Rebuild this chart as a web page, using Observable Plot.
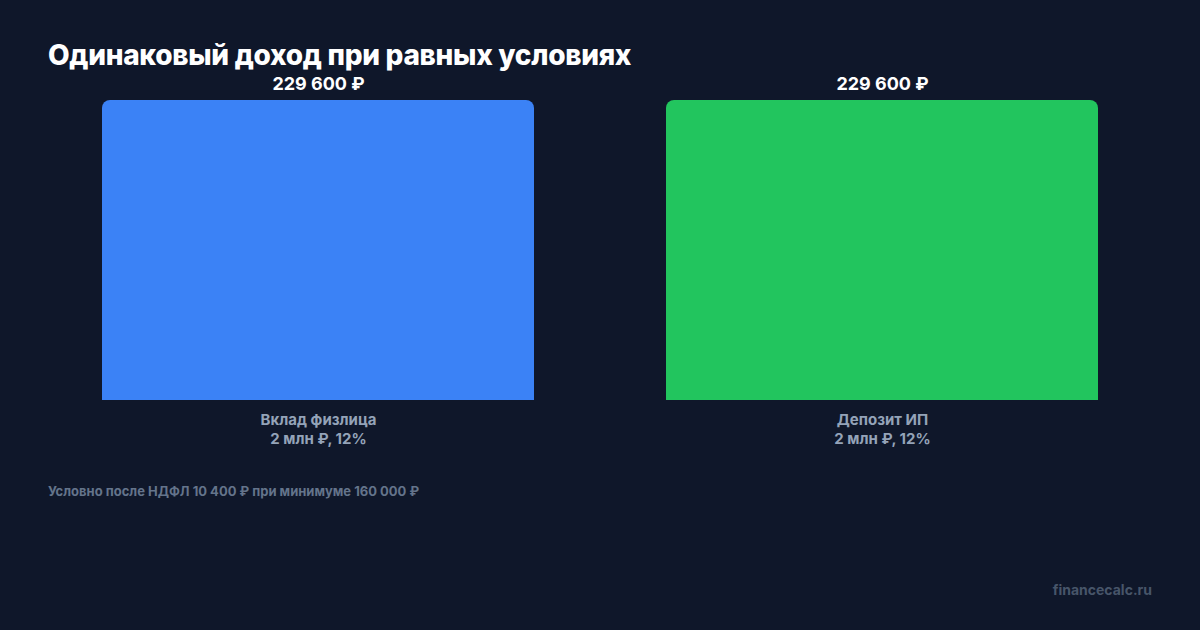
<!DOCTYPE html>
<html><head><meta charset="utf-8">
<script src="https://cdn.jsdelivr.net/npm/d3@7"></script>
<script src="https://cdn.jsdelivr.net/npm/@observablehq/plot@0.6"></script>
<style>
html,body{margin:0;padding:0;background:#0f172a;width:1200px;height:630px;overflow:hidden;font-family:Inter,"Noto Sans",sans-serif;}
#wrap{position:relative;width:1200px;height:630px;}
#title{position:absolute;left:48px;top:38px;font-size:28px;font-weight:800;color:#ffffff;letter-spacing:-0.3px;line-height:34px;}
#caption{position:absolute;left:48px;top:483px;font-size:13px;font-weight:700;color:#64748b;}
#footer{position:absolute;right:48px;top:581px;font-size:14px;font-weight:700;color:#475569;}
#chart{position:absolute;left:0;top:0;}
</style></head>
<body><div id="wrap">
<div id="chart"></div>
<div id="title">Одинаковый доход при равных условиях</div>
<div id="caption">Условно после НДФЛ 10 400 ₽ при минимуме 160 000 ₽</div>
<div id="footer">financecalc.ru</div>
</div>
<script>
const categories = ["Вклад физлица\n2 млн ₽, 12%", "Депозит ИП\n2 млн ₽, 12%"];
const values = [229600, 229600];
const valueLabels = ["229 600 ₽", "229 600 ₽"];
const barColors = ["#3b82f6", "#22c55e"];

const data = categories.map((c, i) => ({category: c, value: values[i], label: valueLabels[i]}));

const chart = Plot.plot({
  width: 1200,
  height: 630,
  marginLeft: 48,
  marginRight: 48,
  marginTop: 100,
  marginBottom: 230,
  style: {background: "transparent", fontFamily: "Inter, 'Noto Sans', sans-serif"},
  x: {domain: categories, paddingInner: 0.234, paddingOuter: 0.0957, label: null},
  y: {domain: [0, 229600], axis: null},
  color: {domain: categories, range: barColors},
  marks: [
    Plot.barY(data, {x: "category", y: "value", fill: "category", rx: 8}),
    Plot.barY(data, {x: "category", y1: 0, y2: d => d.value / 2, fill: "category"}),
    Plot.text(data, {x: "category", y: "value", text: "label", lineAnchor: "bottom", dy: -11, fill: "#ffffff", fontSize: 18, fontWeight: 700}),
    Plot.axisX({tickSize: 0, tickPadding: 11, fontSize: 15, fontWeight: 700, fill: "#94a3b8", label: null, lineHeight: 1.27})
  ]
});
document.getElementById("chart").appendChild(chart);
</script>
</body></html>
